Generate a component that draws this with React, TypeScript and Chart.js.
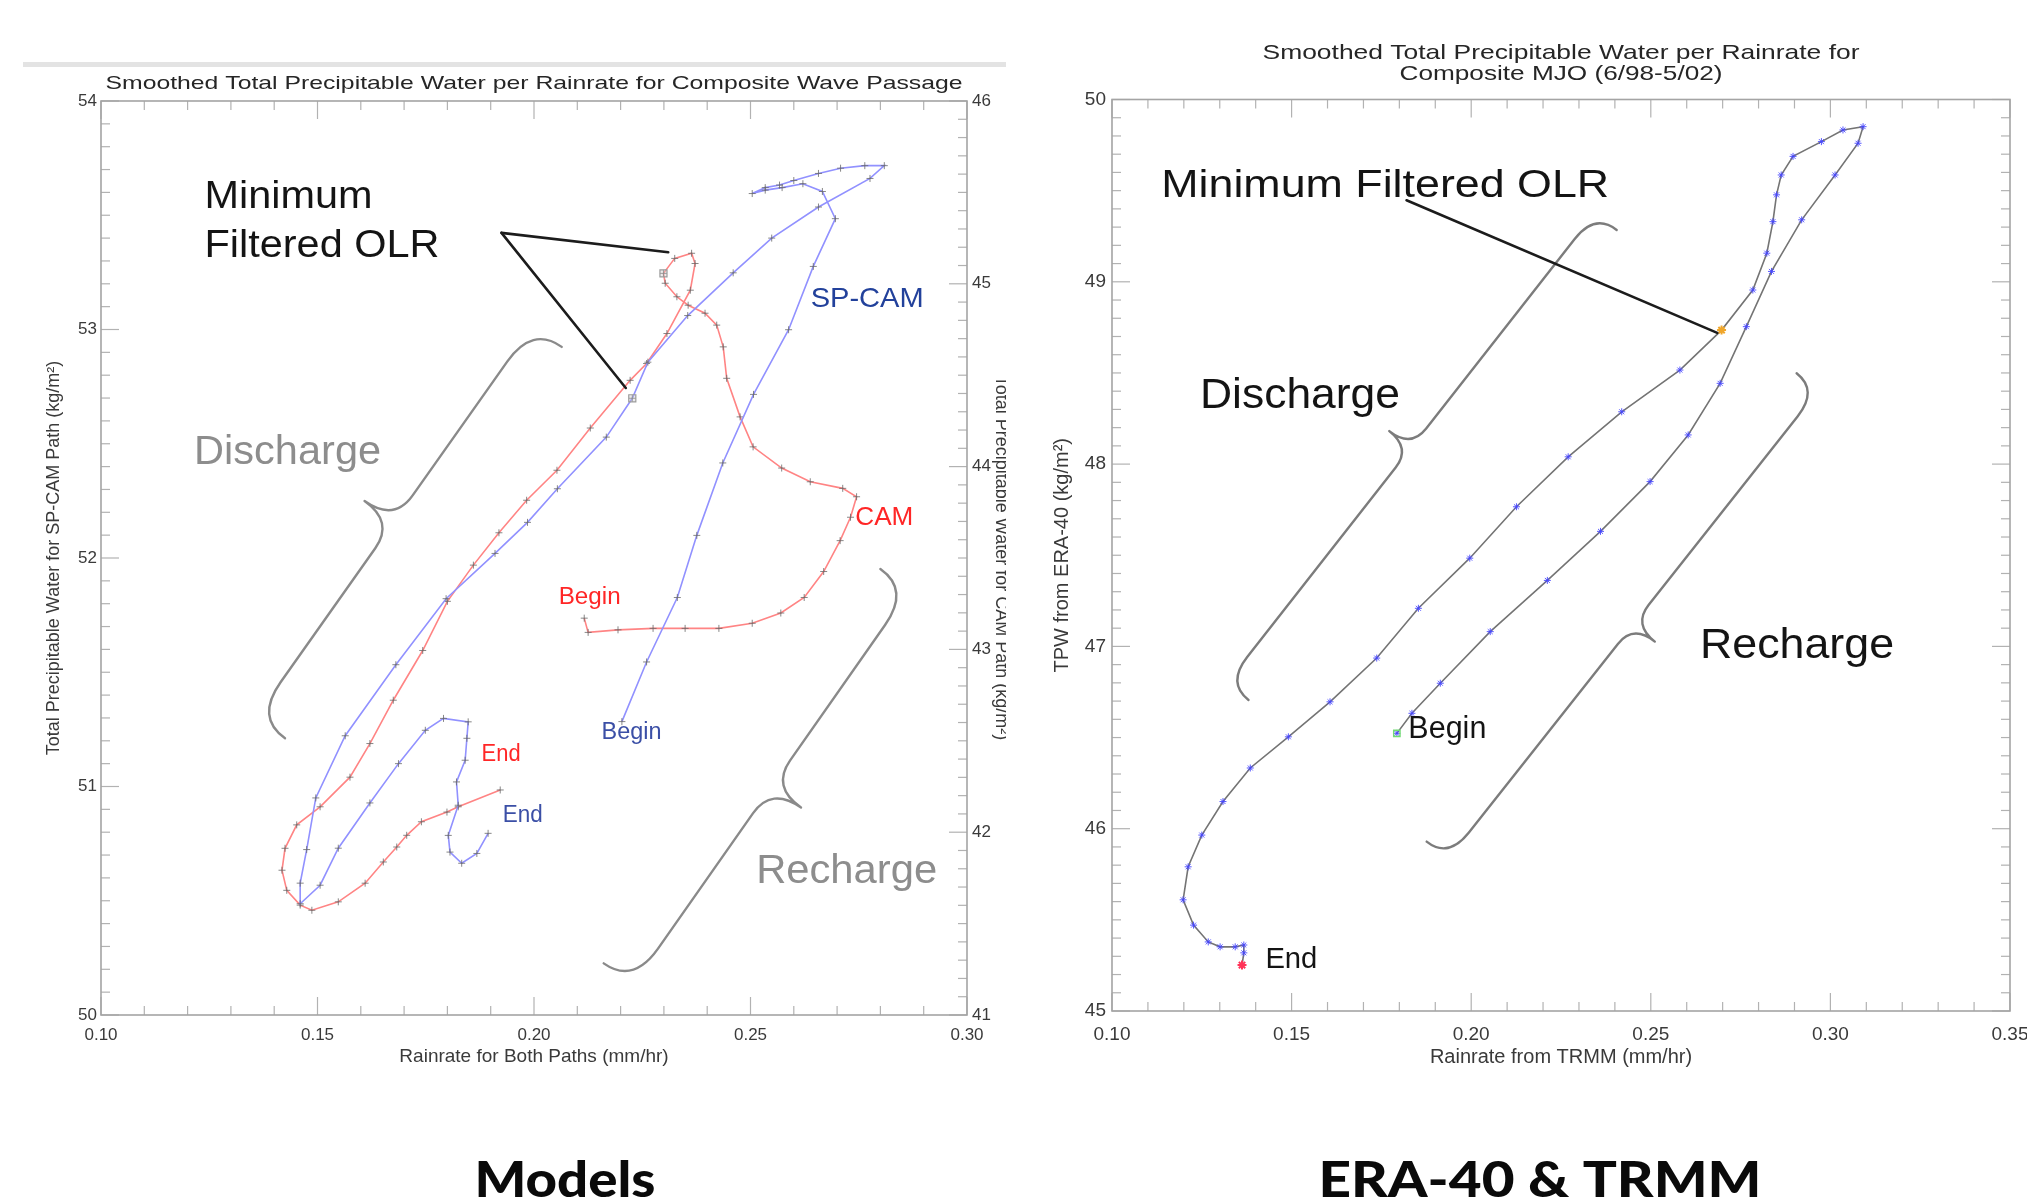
import React, { useEffect, useRef } from "react";
import { Chart, registerables } from "chart.js";

Chart.register(...registerables);

const FONT = '"Liberation Sans", Arial, Helvetica, sans-serif';
const HEAVY = 'Lato, "Open Sans", "DejaVu Sans", sans-serif';

// ================= Models panel (SP-CAM on left axis, CAM on right axis) =================
const spcamRain = [0.2203, 0.2260, 0.2331, 0.2376, 0.2436, 0.2507, 0.2588, 0.2645, 0.2696, 0.2666, 0.2621, 0.2573, 0.2534, 0.2504, 0.2534, 0.2567, 0.2600, 0.2657, 0.2708, 0.2764, 0.2809, 0.2776, 0.2657, 0.2549, 0.2460, 0.2355, 0.2263, 0.2227, 0.2167, 0.2054, 0.1985, 0.1910, 0.1797, 0.1681, 0.1564, 0.1496, 0.1475, 0.1460, 0.1460, 0.1506, 0.1548, 0.1621, 0.1687, 0.1749, 0.1791, 0.1848, 0.1845, 0.1841, 0.1821, 0.1825, 0.1802, 0.1806, 0.1833, 0.1868, 0.1894];
const spcamTpw = [51.284, 51.545, 51.827, 52.099, 52.416, 52.716, 52.999, 53.276, 53.485, 53.604, 53.638, 53.621, 53.610, 53.595, 53.621, 53.632, 53.652, 53.683, 53.706, 53.717, 53.717, 53.661, 53.536, 53.400, 53.248, 53.061, 52.857, 52.699, 52.529, 52.303, 52.156, 52.020, 51.822, 51.533, 51.222, 50.950, 50.724, 50.577, 50.487, 50.568, 50.730, 50.928, 51.100, 51.246, 51.298, 51.283, 51.211, 51.115, 51.020, 50.918, 50.786, 50.713, 50.664, 50.707, 50.795];
const SPCAM_MIN_OLR = 27;

const camRain = [0.2116, 0.2125, 0.2194, 0.2275, 0.2349, 0.2427, 0.2504, 0.2570, 0.2624, 0.2669, 0.2707, 0.2731, 0.2745, 0.2713, 0.2638, 0.2572, 0.2506, 0.2476, 0.2445, 0.2437, 0.2422, 0.2395, 0.2356, 0.2330, 0.2303, 0.2299, 0.2325, 0.2364, 0.2372, 0.2361, 0.2307, 0.2260, 0.2222, 0.2130, 0.2053, 0.1983, 0.1919, 0.1860, 0.1800, 0.1743, 0.1675, 0.1621, 0.1575, 0.1506, 0.1452, 0.1425, 0.1418, 0.1429, 0.1460, 0.1487, 0.1548, 0.1610, 0.1652, 0.1683, 0.1706, 0.1740, 0.1799, 0.1825, 0.1922];
const camTpw = [43.171, 43.093, 43.107, 43.115, 43.115, 43.115, 43.143, 43.199, 43.284, 43.426, 43.595, 43.723, 43.835, 43.881, 43.917, 43.992, 44.108, 44.272, 44.483, 44.655, 44.774, 44.839, 44.883, 44.929, 45.003, 45.057, 45.139, 45.167, 45.111, 44.965, 44.728, 44.564, 44.472, 44.211, 43.980, 43.816, 43.638, 43.461, 43.263, 42.994, 42.722, 42.485, 42.301, 42.139, 42.040, 41.912, 41.792, 41.682, 41.601, 41.573, 41.619, 41.721, 41.837, 41.919, 41.983, 42.057, 42.110, 42.139, 42.231];
const CAM_MIN_OLR = 25;

const modelsXTickLabels = ["0.10", "0.15", "0.20", "0.25", "0.30"];
const modelsYTickLabels = ["50", "51", "52", "53", "54"];
const modelsY2TickLabels = ["41", "42", "43", "44", "45", "46"];

// ================= ERA-40 & TRMM panel =================
const eraRain = [0.1793, 0.1835, 0.1914, 0.2053, 0.2212, 0.2360, 0.2498, 0.2604, 0.2693, 0.2766, 0.2836, 0.2920, 0.3013, 0.3077, 0.3091, 0.3035, 0.2975, 0.2896, 0.2863, 0.2850, 0.2840, 0.2823, 0.2784, 0.2697, 0.2581, 0.2419, 0.2270, 0.2126, 0.1996, 0.1853, 0.1737, 0.1607, 0.1491, 0.1385, 0.1309, 0.1250, 0.1212, 0.1198, 0.1227, 0.1268, 0.1301, 0.1343, 0.1367, 0.1367, 0.1362];
const eraTpw = [46.523, 46.633, 46.798, 47.081, 47.362, 47.631, 47.904, 48.160, 48.443, 48.754, 49.057, 49.340, 49.586, 49.760, 49.851, 49.833, 49.769, 49.688, 49.586, 49.477, 49.330, 49.157, 48.955, 48.735, 48.516, 48.287, 48.040, 47.766, 47.484, 47.209, 46.936, 46.696, 46.504, 46.333, 46.149, 45.965, 45.791, 45.610, 45.471, 45.379, 45.352, 45.352, 45.362, 45.319, 45.252];
const ERA_MIN_OLR = 23;

const eraXTickLabels = ["0.10", "0.15", "0.20", "0.25", "0.30", "0.35"];
const eraYTickLabels = ["45", "46", "47", "48", "49", "50"];

// ================= annotations (data coordinates) =================
const modelsLeaders = [
  { from: { x: 0.1925, y: 53.423 }, to: { x: 0.2310, y: 53.338 } },
  { from: { x: 0.1925, y: 53.423 }, to: { x: 0.2212, y: 52.744 } },
];
const modelsNotes = [
  { t: "Minimum", x: 0.1239, y: 53.530, px: 39, w: 168, color: "#141414" },
  { t: "Filtered OLR", x: 0.1239, y: 53.318, px: 39, w: 235, color: "#141414" },
  { t: "Discharge", x: 0.1215, y: 52.410, px: 41, w: 187, color: "#8d8d8d" },
  { t: "Recharge", x: 0.2513, y: 50.577, px: 41, w: 181, color: "#8d8d8d" },
  { t: "SP-CAM", x: 0.2639, y: 53.100, px: 28, w: 113, color: "#22419b" },
  { t: "CAM", x: 0.2742, y: 52.144, px: 26, w: 58, color: "#ff2626" },
  { t: "Begin", x: 0.2057, y: 51.799, px: 23, w: 62, color: "#ff2626" },
  { t: "Begin", x: 0.2156, y: 51.206, px: 23, w: 60, color: "#3b4fa6" },
  { t: "End", x: 0.1879, y: 51.111, px: 23, w: 39, color: "#ff2626" },
  { t: "End", x: 0.1928, y: 50.845, px: 23, w: 40, color: "#3b4fa6" },
];
const modelsBraces = [
  { a: { x: 0.2064, y: 52.924 }, b: { x: 0.1425, y: 51.211 }, side: 1 },
  { a: { x: 0.2800, y: 51.952 }, b: { x: 0.2161, y: 50.226 }, side: -1 },
];

const eraLeaders = [{ from: { x: 0.1820, y: 49.447 }, to: { x: 0.2685, y: 48.72 } }];
const eraNotes = [
  { t: "Minimum Filtered OLR", x: 0.1137, y: 49.467, px: 39, w: 448, color: "#141414" },
  { t: "Discharge", x: 0.1245, y: 48.305, px: 42, w: 200, color: "#141414" },
  { t: "Recharge", x: 0.2637, y: 46.936, px: 42, w: 194, color: "#141414" },
  { t: "Begin", x: 0.1825, y: 46.496, px: 31, w: 78, color: "#141414" },
  { t: "End", x: 0.1427, y: 45.234, px: 29, w: 52, color: "#141414" },
];
const eraBraces = [
  { a: { x: 0.2405, y: 49.284 }, b: { x: 0.1380, y: 46.706 }, side: 1 },
  { a: { x: 0.2906, y: 48.498 }, b: { x: 0.1876, y: 45.929 }, side: -1 },
];

// ================= helpers =================
type P = { x: number; y: number };
const toPts = (xs: number[], ys: number[]) => xs.map((x, i) => ({ x, y: ys[i] }));

function fillFit(ctx: CanvasRenderingContext2D, text: string, x: number, y: number, font: string, color: string, w: number, align: "left" | "center") {
  ctx.save();
  ctx.font = font;
  ctx.fillStyle = color;
  ctx.textBaseline = "alphabetic";
  ctx.textAlign = "left";
  const m = ctx.measureText(text).width || 1;
  const s = w ? w / m : 1;
  const x0 = align === "center" ? x - (m * s) / 2 : x;
  ctx.translate(x0, y);
  ctx.scale(s, 1);
  ctx.fillText(text, 0, 0);
  ctx.restore();
}

function drawBrace(ctx: CanvasRenderingContext2D, a: P, b: P, h: number, side: number) {
  const dx = b.x - a.x, dy = b.y - a.y;
  const L = Math.hypot(dx, dy);
  const ux = dx / L, uy = dy / L;
  const nx = -uy * side, ny = ux * side;
  const Q = (u: number, v: number): [number, number] => [a.x + ux * u + nx * v, a.y + uy * u + ny * v];
  const r = h * 0.6, r2 = h * 0.45;
  ctx.beginPath();
  ctx.moveTo(...Q(0, 0));
  ctx.quadraticCurveTo(...Q(0, h / 2), ...Q(r, h / 2));
  ctx.lineTo(...Q(L / 2 - r2, h / 2));
  ctx.quadraticCurveTo(...Q(L / 2, h / 2), ...Q(L / 2, h));
  ctx.quadraticCurveTo(...Q(L / 2, h / 2), ...Q(L / 2 + r2, h / 2));
  ctx.lineTo(...Q(L - r, h / 2));
  ctx.quadraticCurveTo(...Q(L, h / 2), ...Q(L, 0));
  ctx.stroke();
}

type TickSpec = { min: number; max: number; major: number; minorPerMajor: number };

function drawTickSet(ctx: CanvasRenderingContext2D, scale: any, t: TickSpec, side: string, area: any, majLen: number, minLen: number) {
  const step = t.major / t.minorPerMajor;
  const n = Math.round((t.max - t.min) / step);
  for (let i = 0; i <= n; i++) {
    const v = t.min + i * step;
    const len = i % t.minorPerMajor === 0 ? majLen : minLen;
    const p = scale.getPixelForValue(v);
    ctx.beginPath();
    if (side === "bottom") { ctx.moveTo(p, area.bottom); ctx.lineTo(p, area.bottom - len); }
    if (side === "top") { ctx.moveTo(p, area.top); ctx.lineTo(p, area.top + len); }
    if (side === "left") { ctx.moveTo(area.left, p); ctx.lineTo(area.left + len, p); }
    if (side === "right") { ctx.moveTo(area.right, p); ctx.lineTo(area.right - len, p); }
    ctx.stroke();
  }
}

type Decor = {
  id: string;
  xTicks: TickSpec;
  leftTicks: TickSpec;
  rightTicks: TickSpec;
  rightScale: string;
  title: { lines: string[]; baselines: number[]; widths: number[]; px: number };
  footer: { text: string; cx: number; baseline: number; px: number; w: number };
  leaders: { from: P; to: P }[];
  notes: { t: string; x: number; y: number; px: number; w: number; color: string }[];
  braces: { a: P; b: P; side: number }[];
  braceDepth: number;
  braceColor: string;
};

function decorPlugin(d: Decor) {
  return {
    id: d.id,
    beforeDatasetsDraw(chart: any) {
      const { ctx, chartArea: area } = chart;
      ctx.save();
      ctx.strokeStyle = "#b2b2b2";
      ctx.lineWidth = 1.2;
      drawTickSet(ctx, chart.scales.x, d.xTicks, "bottom", area, 18, 9);
      drawTickSet(ctx, chart.scales.x, d.xTicks, "top", area, 18, 9);
      drawTickSet(ctx, chart.scales.y, d.leftTicks, "left", area, 18, 9);
      drawTickSet(ctx, chart.scales[d.rightScale], d.rightTicks, "right", area, 18, 9);
      ctx.strokeStyle = "#a4a4a4";
      ctx.lineWidth = 1.6;
      ctx.strokeRect(area.left, area.top, area.right - area.left, area.bottom - area.top);
      ctx.restore();
    },
    afterDatasetsDraw(chart: any) {
      const { ctx, chartArea: area } = chart;
      const sx = chart.scales.x, sy = chart.scales.y;
      const px = (p: P): P => ({ x: sx.getPixelForValue(p.x), y: sy.getPixelForValue(p.y) });
      ctx.save();
      // braces
      ctx.strokeStyle = d.braceColor;
      ctx.lineWidth = 2.4;
      ctx.lineCap = "round";
      ctx.lineJoin = "round";
      d.braces.forEach((b) => drawBrace(ctx, px(b.a), px(b.b), d.braceDepth, b.side));
      // leader lines
      ctx.strokeStyle = "#1c1c1c";
      ctx.lineWidth = 2.6;
      d.leaders.forEach((l) => {
        const a = px(l.from), b = px(l.to);
        ctx.beginPath();
        ctx.moveTo(a.x, a.y);
        ctx.lineTo(b.x, b.y);
        ctx.stroke();
      });
      // notes
      d.notes.forEach((n) => {
        const p = px({ x: n.x, y: n.y });
        fillFit(ctx, n.t, p.x, p.y, `${n.px}px ${FONT}`, n.color, n.w, "left");
      });
      // title
      const cx = (area.left + area.right) / 2;
      d.title.lines.forEach((line, i) => {
        fillFit(ctx, line, cx, d.title.baselines[i], `${d.title.px}px ${FONT}`, "#262626", d.title.widths[i], "center");
      });
      // footer caption
      fillFit(ctx, d.footer.text, d.footer.cx, d.footer.baseline, `900 ${d.footer.px}px ${HEAVY}`, "#0a0a0a", d.footer.w, "center");
      ctx.restore();
    },
  };
}

function axisFont(size: number) {
  return { family: FONT, size };
}

function modelsConfig(): any {
  return {
    type: "scatter",
    data: {
      datasets: [
        {
          label: "SP-CAM min OLR",
          data: [{ x: spcamRain[SPCAM_MIN_OLR], y: spcamTpw[SPCAM_MIN_OLR] }],
          yAxisID: "y",
          pointStyle: "rect",
          pointRadius: 5,
          pointBorderColor: "#9c9c9c",
          pointBackgroundColor: "rgba(200,200,200,0.35)",
          pointBorderWidth: 1.2,
          order: 0,
        },
        {
          label: "CAM min OLR",
          data: [{ x: camRain[CAM_MIN_OLR], y: camTpw[CAM_MIN_OLR] }],
          yAxisID: "y2",
          pointStyle: "rect",
          pointRadius: 5,
          pointBorderColor: "#9c9c9c",
          pointBackgroundColor: "rgba(200,200,200,0.35)",
          pointBorderWidth: 1.2,
          order: 0,
        },
        {
          label: "SP-CAM",
          data: toPts(spcamRain, spcamTpw),
          yAxisID: "y",
          showLine: true,
          borderColor: "rgb(145,145,255)",
          borderWidth: 1.6,
          pointStyle: "cross",
          pointRadius: 3.5,
          pointBorderColor: "rgba(105,105,105,0.8)",
          pointBackgroundColor: "rgba(0,0,0,0)",
          pointBorderWidth: 1,
          tension: 0,
          order: 1,
        },
        {
          label: "CAM",
          data: toPts(camRain, camTpw),
          yAxisID: "y2",
          showLine: true,
          borderColor: "rgb(255,132,132)",
          borderWidth: 1.6,
          pointStyle: "cross",
          pointRadius: 3.5,
          pointBorderColor: "rgba(105,105,105,0.8)",
          pointBackgroundColor: "rgba(0,0,0,0)",
          pointBorderWidth: 1,
          tension: 0,
          order: 1,
        },
      ],
    },
    options: {
      responsive: false,
      animation: false,
      devicePixelRatio: 1,
      events: [],
      layout: { padding: { top: 101, bottom: 110, left: 0, right: 0 } },
      plugins: { legend: { display: false }, tooltip: { enabled: false }, title: { display: false } },
      scales: {
        x: {
          type: "linear",
          position: "bottom",
          min: 0.1,
          max: 0.3,
          grid: { display: false, drawTicks: false },
          border: { display: false },
          ticks: {
            stepSize: 0.05,
            autoSkip: false,
            maxRotation: 0,
            padding: 10,
            color: "#3a3a3a",
            font: axisFont(17),
            callback: (_v: any, i: number) => modelsXTickLabels[i] ?? "",
          },
          title: { display: true, text: "Rainrate for Both Paths (mm/hr)", color: "#3a3a3a", font: axisFont(19), padding: { top: 0, bottom: 21.6 } },
          afterFit: (s: any) => { s.height = 75; s.paddingLeft = 0; s.paddingRight = 0; },
        },
        y: {
          type: "linear",
          position: "left",
          min: 50,
          max: 54,
          grid: { display: false, drawTicks: false },
          border: { display: false },
          ticks: { stepSize: 1, padding: 4, color: "#3a3a3a", font: axisFont(17), callback: (_v: any, i: number) => modelsYTickLabels[i] ?? "" },
          title: { display: true, text: "Total Precipitable Water for SP-CAM Path (kg/m²)", color: "#3a3a3a", font: axisFont(18), padding: { top: 43, bottom: 0 } },
          afterFit: (s: any) => { s.width = 101; s.paddingTop = 0; s.paddingBottom = 0; },
        },
        y2: {
          type: "linear",
          position: "right",
          min: 41,
          max: 46,
          grid: { display: false, drawTicks: false },
          border: { display: false },
          ticks: { stepSize: 1, padding: 5, color: "#3a3a3a", font: axisFont(17), callback: (_v: any, i: number) => modelsY2TickLabels[i] ?? "" },
          title: { display: true, text: "Total Precipitable Water for CAM Path (kg/m²)", color: "#3a3a3a", font: axisFont(18), padding: { top: 0, bottom: 0 } },
          afterFit: (s: any) => { s.width = 45; s.paddingTop = 0; s.paddingBottom = 0; },
        },
      },
    },
    plugins: [
      decorPlugin({
        id: "modelsDecor",
        xTicks: { min: 0.1, max: 0.3, major: 0.05, minorPerMajor: 5 },
        leftTicks: { min: 50, max: 54, major: 1, minorPerMajor: 10 },
        rightTicks: { min: 41, max: 46, major: 1, minorPerMajor: 10 },
        rightScale: "y2",
        title: { lines: ["Smoothed Total Precipitable Water per Rainrate for Composite Wave Passage"], baselines: [89], widths: [857], px: 19 },
        footer: { text: "Models", cx: 565, baseline: 1197, px: 50, w: 181 },
        leaders: modelsLeaders,
        notes: modelsNotes,
        braces: modelsBraces,
        braceDepth: 72,
        braceColor: "#8a8a8a",
      }),
    ],
  };
}

function eraConfig(): any {
  return {
    type: "scatter",
    data: {
      datasets: [
        {
          label: "Begin",
          data: [{ x: eraRain[0], y: eraTpw[0] }],
          pointStyle: "rect",
          pointRadius: 4.5,
          pointBorderColor: "#72dc72",
          pointBackgroundColor: "rgba(0,0,0,0)",
          pointBorderWidth: 1.4,
          order: 0,
        },
        {
          label: "Minimum OLR",
          data: [{ x: eraRain[ERA_MIN_OLR], y: eraTpw[ERA_MIN_OLR] }],
          pointStyle: "star",
          pointRadius: 4.5,
          pointBorderColor: "#f0a62a",
          pointBorderWidth: 2,
          order: 0,
        },
        {
          label: "End",
          data: [{ x: eraRain[eraRain.length - 1], y: eraTpw[eraTpw.length - 1] }],
          pointStyle: "star",
          pointRadius: 4.5,
          pointBorderColor: "#ff3358",
          pointBorderWidth: 2,
          order: 0,
        },
        {
          label: "ERA-40 / TRMM",
          data: toPts(eraRain, eraTpw),
          showLine: true,
          borderColor: "#747474",
          borderWidth: 1.6,
          pointStyle: "star",
          pointRadius: 3.5,
          pointBorderColor: "rgba(70,70,255,0.9)",
          pointBackgroundColor: "rgba(0,0,0,0)",
          pointBorderWidth: 1,
          tension: 0,
          order: 1,
        },
      ],
    },
    options: {
      responsive: false,
      animation: false,
      devicePixelRatio: 1,
      events: [],
      layout: { padding: { top: 99.5, bottom: 110, left: 0, right: 17 } },
      plugins: { legend: { display: false }, tooltip: { enabled: false }, title: { display: false } },
      scales: {
        x: {
          type: "linear",
          position: "bottom",
          min: 0.1,
          max: 0.35,
          grid: { display: false, drawTicks: false },
          border: { display: false },
          ticks: {
            stepSize: 0.05,
            autoSkip: false,
            maxRotation: 0,
            padding: 12,
            color: "#3a3a3a",
            font: axisFont(19),
            callback: (_v: any, i: number) => eraXTickLabels[i] ?? "",
          },
          title: { display: true, text: "Rainrate from TRMM (mm/hr)", color: "#3a3a3a", font: axisFont(20), padding: { top: 0, bottom: 21 } },
          afterFit: (s: any) => { s.height = 79; s.paddingLeft = 0; s.paddingRight = 0; },
        },
        y: {
          type: "linear",
          position: "left",
          min: 45,
          max: 50,
          grid: { display: false, drawTicks: false },
          border: { display: false },
          ticks: { stepSize: 1, padding: 6, color: "#3a3a3a", font: axisFont(19), callback: (_v: any, i: number) => eraYTickLabels[i] ?? "" },
          title: { display: true, text: "TPW from ERA-40 (kg/m²)", color: "#3a3a3a", font: axisFont(20), padding: { top: 20.6, bottom: 0 } },
          afterFit: (s: any) => { s.width = 82; s.paddingTop = 0; s.paddingBottom = 0; },
        },
      },
    },
    plugins: [
      decorPlugin({
        id: "eraDecor",
        xTicks: { min: 0.1, max: 0.35, major: 0.05, minorPerMajor: 5 },
        leftTicks: { min: 45, max: 50, major: 1, minorPerMajor: 10 },
        rightTicks: { min: 45, max: 50, major: 1, minorPerMajor: 10 },
        rightScale: "y",
        title: {
          lines: ["Smoothed Total Precipitable Water per Rainrate for", "Composite MJO (6/98-5/02)"],
          baselines: [58.5, 80],
          widths: [597, 323],
          px: 21,
        },
        footer: { text: "ERA-40 & TRMM", cx: 510, baseline: 1197, px: 50, w: 443 },
        leaders: eraLeaders,
        notes: eraNotes,
        braces: eraBraces,
        braceDepth: 55,
        braceColor: "#7c7c7c",
      }),
    ],
  };
}

function ChartCanvas({ make, width, height }: { make: () => any; width: number; height: number }) {
  const ref = useRef<HTMLCanvasElement>(null);
  useEffect(() => {
    const chart = new Chart(ref.current as HTMLCanvasElement, make());
    return () => chart.destroy();
  }, []);
  return <canvas ref={ref} width={width} height={height} style={{ display: "block", width, height }} />;
}

export default function App() {
  return (
    <div style={{ position: "absolute", left: 0, top: 0, width: 2027, height: 1200, background: "#fff", overflow: "hidden" }}>
      <div style={{ position: "absolute", left: 23, top: 62, width: 983, height: 5, background: "#e3e3e3" }} />
      <div style={{ position: "absolute", left: 0, top: 0, width: 1006, height: 1200, overflow: "hidden" }}>
        <ChartCanvas make={modelsConfig} width={1012} height={1200} />
      </div>
      <div style={{ position: "absolute", left: 1030, top: 0, width: 997, height: 1200 }}>
        <ChartCanvas make={eraConfig} width={997} height={1200} />
      </div>
    </div>
  );
}
